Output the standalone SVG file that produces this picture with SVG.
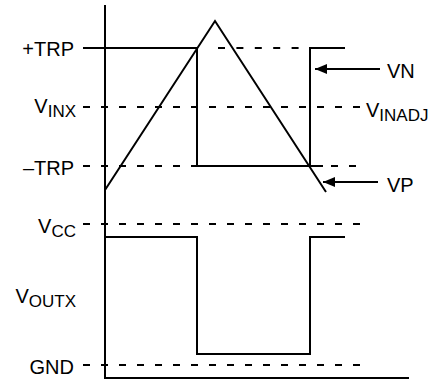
<svg xmlns="http://www.w3.org/2000/svg" width="432" height="381" viewBox="0 0 432 381">
<style>
.s{fill:none;stroke:#000;stroke-width:2;stroke-linejoin:miter;stroke-linecap:butt}
.d{fill:none;stroke:#000;stroke-width:2;stroke-dasharray:7 11}
text{font-family:"Liberation Sans",Arial,Helvetica,sans-serif;font-size:20px;fill:#000}
.r{text-anchor:end}
.sub{font-size:17px}
</style>
<defs>
<marker id="ah" markerWidth="12" markerHeight="10" refX="12" refY="5" orient="auto" markerUnits="userSpaceOnUse">
<path d="M0,0 L12,5 L0,10 Z" fill="#000"/>
</marker>
</defs>
<g id="labels">
<text class="r" x="74" y="56">+TRP</text>
<text class="r" x="76" y="113">V<tspan class="sub" dy="4">INX</tspan></text>
<text class="r" x="74" y="175">–TRP</text>
<text class="r" x="76" y="233">V<tspan class="sub" dy="4">CC</tspan></text>
<text class="r" x="76" y="303">V<tspan class="sub" dy="4">OUTX</tspan></text>
<text class="r" x="74" y="374">GND</text>
<text x="387" y="78">VN</text>
<text x="366" y="117">V<tspan class="sub" dy="4">INADJ</tspan></text>
<text x="387" y="192">VP</text>
</g>
<g id="reference-lines">
<path class="d" d="M83,107 H361"/>
<path class="d" d="M83,166 H197"/>
<path class="d" d="M331,166 H360"/>
<path class="d" d="M218,48 H310" style="stroke-dasharray:7 11.4"/>
<path class="d" d="M83,224 H361"/>
<path class="d" d="M83,365 H361"/>
</g>
<g id="axes">
<path class="s" d="M105,5 V378 H409"/>
</g>
<g id="input-waveform">
<path class="s" d="M105,190 L215,21 L326,192"/>
</g>
<g id="threshold-waveform">
<path class="s" d="M83,48 H197 V166 H323"/>
<path class="s" d="M310,166 V48 H345"/>
</g>
<g id="output-waveform">
<path class="s" d="M105,237 H197 V354 H310 V237 H345"/>
</g>
<g id="connectors">
<path class="s" d="M380,69 H315" marker-end="url(#ah)"/>
<path class="s" d="M378,182 H323" marker-end="url(#ah)"/>
</g>
</svg>
